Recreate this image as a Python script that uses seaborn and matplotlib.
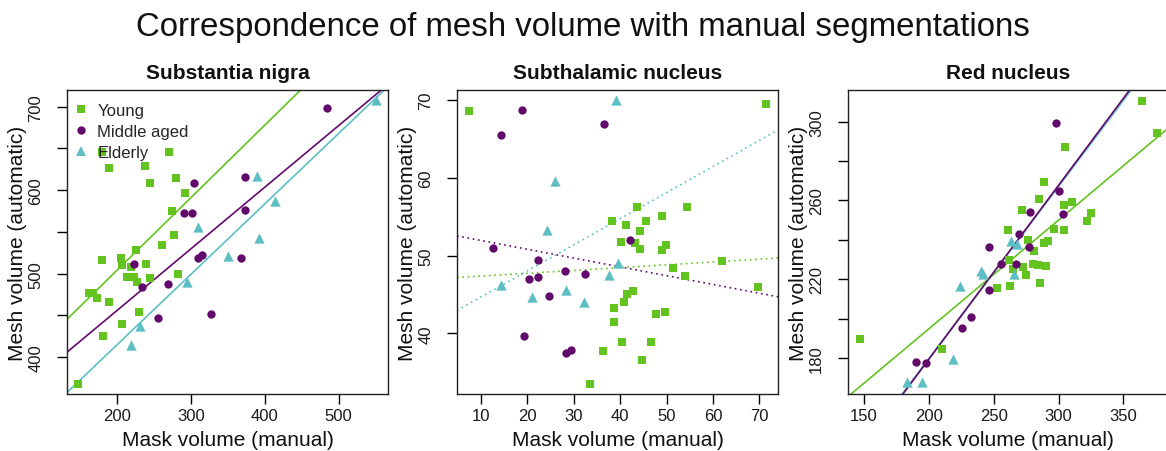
import numpy as np
import pandas as pd
import matplotlib
matplotlib.use("Agg")
import matplotlib.pyplot as plt
import seaborn as sns
from matplotlib.lines import Line2D

# ---------------- data ----------------
groups = ["Young", "Middle aged", "Elderly"]
panel_titles = ["Substantia nigra", "Subthalamic nucleus", "Red nucleus"]

sn_young_x = [178.8, 189.1, 237.3, 269.4, 243.5, 279.9, 292.1, 274.0, 277.1, 260.4, 224.5, 178.8, 205.4, 206.4, 218.6,
              238.6, 212.8, 222.7, 227.2, 243.5, 282.6, 161.5, 167.3, 172.8, 188.7, 229.5, 206.8, 181.0, 146.9]
sn_young_y = [645.3, 626.5, 629.3, 646.0, 608.1, 614.1, 596.2, 575.3, 546.5, 534.5, 528.5, 516.5, 519.4, 510.2, 507.8,
              511.4, 496.2, 495.5, 490.6, 494.3, 499.4, 477.5, 477.5, 470.6, 466.7, 454.1, 440.3, 425.4, 368.4]
sn_mid_x = [303.4, 289.8, 300.7, 222.7, 308.8, 314.8, 233.6, 268.6, 254.4, 327.1, 372.4, 373.3, 367.9, 484.0]
sn_mid_y = [608.1, 572.2, 572.9, 511.4, 518.6, 522.2, 484.2, 487.4, 446.7, 452.3, 615.3, 576.1, 518.6, 698.4]
sn_eld_x = [389.7, 308.8, 392.4, 350.2, 294.8, 230.9, 218.6, 414.1, 550.6]
sn_eld_y = [617.3, 556.1, 542.6, 521.3, 490.6, 437.8, 414.3, 587.3, 708.0]

stn_young_x = [7.4, 38.2, 41.3, 43.6, 40.3, 41.6, 42.7, 40.9, 38.7, 38.6, 40.5, 36.3, 33.6, 71.5, 45.5, 49.0, 54.5,
               44.3, 43.3, 44.3, 49.9, 49.1, 51.5, 53.9, 61.9, 69.6, 47.8, 49.6, 46.7, 44.8]
stn_young_y = [68.6, 54.4, 54.0, 56.3, 51.8, 45.1, 45.4, 44.0, 43.3, 41.5, 38.9, 37.7, 33.5, 69.5, 54.5, 55.1, 56.3,
               53.2, 51.6, 50.9, 51.3, 50.7, 48.4, 47.4, 49.3, 46.0, 42.5, 42.8, 38.9, 36.6]
stn_mid_x = [14.3, 18.9, 12.7, 22.3, 20.4, 22.3, 24.6, 19.4, 28.2, 32.5, 36.6, 28.4, 29.5, 42.1]
stn_mid_y = [65.5, 68.7, 51.0, 49.4, 47.0, 47.3, 44.8, 39.7, 48.0, 47.6, 66.9, 37.5, 37.9, 52.0]
stn_eld_x = [39.2, 25.9, 24.3, 14.3, 21.0, 28.4, 32.2, 37.7, 39.6]
stn_eld_y = [70.0, 59.6, 53.3, 46.2, 44.7, 45.6, 44.0, 47.5, 49.0]

rn_young_x = [146.7, 210.3, 364.2, 375.7, 305.2, 288.5, 285.2, 304.2, 310.0, 325.4, 322.1, 271.5, 260.8, 296.7, 304.4,
              276.2, 292.1, 288.5, 281.1, 261.5, 280.0, 283.8, 290.0, 272.6, 264.6, 274.9, 252.3, 262.6, 285.9]
rn_young_y = [189.7, 184.6, 310.4, 294.1, 287.3, 269.5, 260.6, 257.9, 259.2, 253.7, 249.4, 255.0, 245.0, 245.4, 245.0,
              240.0, 239.6, 238.3, 234.5, 230.0, 227.6, 227.3, 226.9, 226.1, 225.2, 222.2, 215.7, 216.4, 218.1]
rn_mid_x = [189.8, 198.2, 225.7, 232.6, 298.2, 300.5, 277.7, 303.6, 269.5, 246.7, 277.2, 255.9, 267.2, 246.2]
rn_mid_y = [177.9, 177.4, 195.1, 201.0, 299.2, 264.7, 254.0, 253.1, 242.8, 236.2, 236.4, 227.6, 227.8, 214.6]
rn_eld_x = [183.4, 194.9, 218.8, 224.4, 240.3, 241.5, 263.6, 268.0, 265.4]
rn_eld_y = [168.0, 167.7, 179.5, 216.8, 224.4, 222.7, 239.6, 237.9, 222.7]

sn_xticks = [200, 300, 400, 500]
sn_yticks = [400, 450, 500, 550, 600, 650, 700]
sn_yticklabels = ["400", "", "500", "", "600", "", "700"]
stn_xticks = [10, 20, 30, 40, 50, 60, 70]
stn_yticks = [40, 50, 60, 70]
stn_yticklabels = ["40", "50", "60", "70"]
rn_xticks = [150, 200, 250, 300, 350]
rn_yticks = [180, 200, 220, 240, 260, 280, 300]
rn_yticklabels = ["180", "", "220", "", "260", "", "300"]

# ---------------- styling ----------------
sns.set_theme(style="ticks")
plt.rcParams["font.family"] = ["Liberation Sans", "DejaVu Sans"]

colors = {"Young": "#63c31f", "Middle aged": "#620a6c", "Elderly": "#5dbfc4"}
markers = {"Young": "s", "Middle aged": "o", "Elderly": "^"}
sizes = {"Young": 40, "Middle aged": 36, "Elderly": 55}

def frame(xs, ys):
    rows = []
    for g, (x, y) in zip(groups, zip(xs, ys)):
        for a, b in zip(x, y):
            rows.append({"manual": a, "auto": b, "group": g})
    return pd.DataFrame(rows)

panels = [
    dict(df=frame([sn_young_x, sn_mid_x, sn_eld_x], [sn_young_y, sn_mid_y, sn_eld_y]),
         xlim=(131.6, 566.9), ylim=(356.0, 720.0), xticks=sn_xticks, yticks=sn_yticks,
         yticklabels=sn_yticklabels, ls="-", left=67),
    dict(df=frame([stn_young_x, stn_mid_x, stn_eld_x], [stn_young_y, stn_mid_y, stn_eld_y]),
         xlim=(4.9, 74.0), ylim=(32.2, 71.3), xticks=stn_xticks, yticks=stn_yticks,
         yticklabels=stn_yticklabels, ls=(0, (1, 2.2)), left=457),
    dict(df=frame([rn_young_x, rn_mid_x, rn_eld_x], [rn_young_y, rn_mid_y, rn_eld_y]),
         xlim=(137.5, 384.9), ylim=(161.7, 316.1), xticks=rn_xticks, yticks=rn_yticks,
         yticklabels=rn_yticklabels, ls="-", left=847.7),
]

W, H = 1166, 452
fig = plt.figure(figsize=(W / 100, H / 100), dpi=100)
fig.patch.set_facecolor("white")

ax_w, ax_top, ax_bot = 321, 91, 395
for i, p in enumerate(panels):
    ax = fig.add_axes([p["left"] / W, 1 - ax_bot / H, ax_w / W, (ax_bot - ax_top) / H])
    ax.set_facecolor("white")
    ax.set_xlim(*p["xlim"])
    ax.set_ylim(*p["ylim"])
    df = p["df"]
    for g in groups:
        sub = df[df.group == g]
        sns.scatterplot(data=sub, x="manual", y="auto", ax=ax, color=colors[g], marker=markers[g],
                        s=sizes[g], linewidth=0, legend=False, zorder=3)
    for g in ["Young", "Elderly", "Middle aged"]:
        sub = df[df.group == g]
        sns.regplot(data=sub, x="manual", y="auto", ax=ax, scatter=False, ci=None, truncate=False,
                    line_kws=dict(color=colors[g], lw=1.2, ls=p["ls"], zorder=2))
    ax.set_xlim(*p["xlim"])
    ax.set_ylim(*p["ylim"])
    ax.set_xticks(p["xticks"])
    ax.set_xticklabels([str(t) for t in p["xticks"]])
    ax.set_yticks(p["yticks"])
    ax.set_yticklabels(p["yticklabels"], rotation=90, va="center")
    ax.tick_params(axis="both", direction="out", length=7, width=1.0, color="black",
                   labelsize=12, labelcolor="#1a1a1a")
    ax.tick_params(axis="x", pad=3)
    ax.tick_params(axis="y", pad=10)
    for sp in ax.spines.values():
        sp.set_visible(True)
        sp.set_color("#222222")
        sp.set_linewidth(1.0)
    ax.set_xlabel("Mask volume (manual)", fontsize=15, color="#111111", labelpad=5)
    ax.set_ylabel("Mesh volume (automatic)", fontsize=15, color="#111111", labelpad=1)
    ax.set_title(panel_titles[i], fontsize=15, fontweight="bold", pad=8.5, color="#111111")
    if i == 0:
        handles = [Line2D([], [], ls="none", marker=markers[g], color=colors[g],
                          markersize=np.sqrt(sizes[g]), markeredgewidth=0) for g in groups]
        ax.legend(handles, groups, loc="upper left", frameon=False, fontsize=12,
                  handletextpad=0.6, handlelength=0.8, labelspacing=0.38,
                  borderpad=0.3, borderaxespad=0.0, bbox_to_anchor=(0.006, 0.975))

fig.suptitle("Correspondence of mesh volume with manual segmentations", fontsize=23.8,
             x=0.5, y=0.974, va="top", color="#111111")

fig.savefig("out.png", dpi=100, facecolor="white")
